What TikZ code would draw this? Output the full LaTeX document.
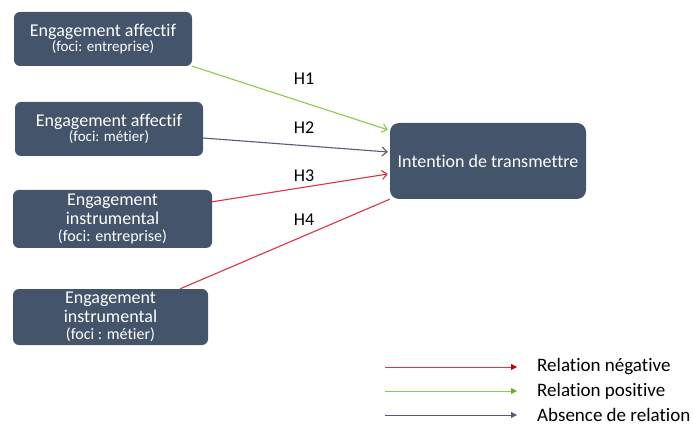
\documentclass[tikz,border=0pt]{standalone}
\usepackage{fontspec}
\setmainfont[Ligatures=NoCommon]{Carlito}
\usetikzlibrary{arrows.meta,calc}
\definecolor{boxfill}{HTML}{44546A}
\definecolor{posgreen}{HTML}{8CC84B}
\definecolor{postip}{HTML}{6FA83A}
\definecolor{negred}{HTML}{DD3344}
\definecolor{negtip}{HTML}{C00000}
\definecolor{nulgray}{HTML}{525C74}
\begin{document}
\begin{tikzpicture}[x=1pt,y=-1pt,
  box/.style={draw=none,fill=boxfill,rounded corners=6pt,text=white,align=center,
    inner sep=0pt,font=\fontsize{18}{19}\selectfont},
  hyp/.style={font=\fontsize{18}{20}\selectfont},
  link/.style={line width=1.1pt,-{Straight Barb[length=5pt,width=9pt]}},
  leg/.style={line width=0.9pt},
  legtext/.style={anchor=west,inner sep=0pt,font=\fontsize{19}{21}\selectfont}]
\useasboundingbox (0,0) rectangle (693,430);
\node[box,minimum width=178pt,minimum height=54pt] (b1) at (103,39)
  {Engagement affectif\\[-4pt]{\fontsize{15}{16}\selectfont (foci: entreprise)}};
\node[box,minimum width=188pt,minimum height=54pt] (b2) at (109,129)
  {Engagement affectif\\[-4pt]{\fontsize{15}{16}\selectfont (foci: métier)}};
\node[box,minimum width=199pt,minimum height=58pt] (b3) at (112.5,219)
  {Engagement\\[0pt]instrumental\\[-2pt]{\fontsize{16}{17}\selectfont (foci: entreprise)}};
\node[box,minimum width=195pt,minimum height=56pt] (b4) at (110.5,317)
  {Engagement\\[0pt]instrumental\\[-2pt]{\fontsize{16}{17}\selectfont (foci : métier)}};
\node[box,minimum width=196pt,minimum height=76pt,rounded corners=9pt] (t) at (488,161)
  {Intention de transmettre};

\coordinate (e1) at ($(t.north west)+(-2,7)$);
\coordinate (e2) at ($(t.west)+(-2,-9)$);
\coordinate (e3) at ($(t.west)+(-2,13)$);
\coordinate (s2) at ($(b2.east)+(0,9)$);
\coordinate (s3) at ($(b3.north east)+(0,12)$);
\coordinate (s4) at ($(b4.north east)+(-28,0)$);
\draw[link,posgreen] (b1.south east) -- (e1);
\draw[link,nulgray] (s2) -- (e2);
\draw[link,negred] (s3) -- (e3);
\draw[line width=1.1pt,negred] (s4) -- (t.south west);

\node[hyp] (h1) at (304,79) {H1};
\node[hyp] (h2) at (304,128) {H2};
\node[hyp] (h3) at (304,176) {H3};
\node[hyp] (h4) at (304,220) {H4};

\coordinate (la) at (385,367);
\coordinate (lb) at (385,391);
\coordinate (lc) at (385,415);
\node[legtext] (ta) at (537,367) {Relation négative};
\node[legtext] (tb) at (537,391) {Relation positive};
\node[legtext] (tc) at (537,415) {Absence de relation};
\draw[leg,negred,-{Triangle[length=6pt,width=6pt,color=negtip]}] (la) -- ++(132,0);
\draw[leg,posgreen,-{Triangle[length=6pt,width=6pt,color=postip]}] (lb) -- ++(132,0);
\draw[leg,nulgray,-{Triangle[length=6pt,width=6pt]}] (lc) -- ++(132,0);
\end{tikzpicture}
\end{document}
